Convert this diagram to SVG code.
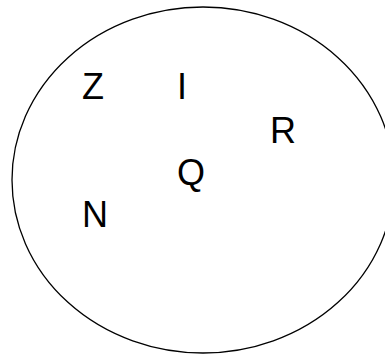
<svg xmlns="http://www.w3.org/2000/svg" width="385" height="354" viewBox="0 0 385 354">
<style>
.lbl{font-family:"Liberation Sans",Arial,sans-serif;font-size:36px;fill:#000}
.shape{fill:none;stroke:#000;stroke-width:1.3}
</style>
<rect width="385" height="354" fill="#fff"/>
<g id="set"><ellipse class="shape" cx="203" cy="180" rx="191" ry="173"/></g>
<g id="connectors"></g>
<g id="Z"><text class="lbl" x="82" y="99">Z</text></g>
<g id="I"><text class="lbl" x="177" y="99">I</text></g>
<g id="R"><text class="lbl" x="270" y="143">R</text></g>
<g id="Q"><text class="lbl" x="177" y="185">Q</text></g>
<g id="N"><text class="lbl" x="82" y="227">N</text></g>
</svg>
